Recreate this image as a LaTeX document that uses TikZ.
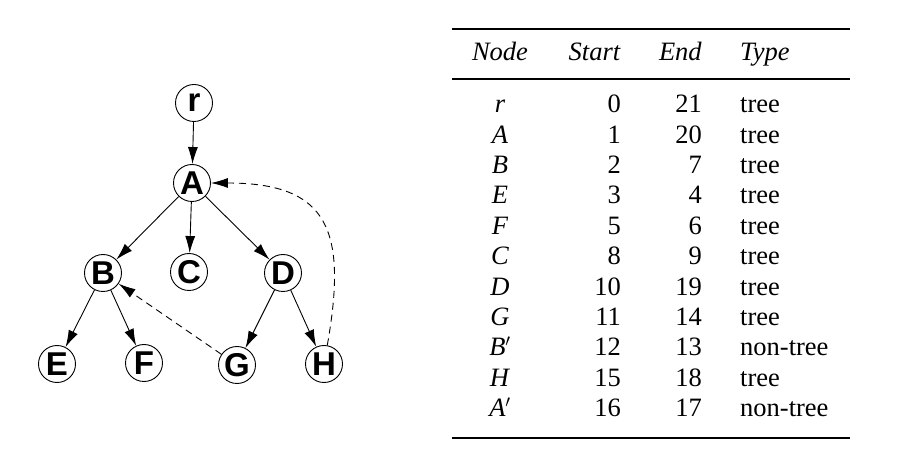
\documentclass[tikz,border=0pt]{standalone}
\usepackage{fontspec}
\setmainfont{Liberation Serif}
\newfontfamily\graphfont{Liberation Sans}
\usetikzlibrary{arrows.meta}
\tikzset{
	vertex/.style={circle, draw, line width=0.9pt, minimum size=37pt, inner sep=0pt,
		font=\graphfont\bfseries\fontsize{33}{33}\selectfont},
	treeedge/.style={-{Latex[length=17pt,width=10pt]}, line width=0.9pt},
	backedge/.style={treeedge, dash pattern=on 7pt off 5pt},
	cell/.style={inner sep=0pt, font=\rmfamily\fontsize{26.5}{30}\selectfont},
	rule/.style={line width=1.2pt}
}
\begin{document}
\begin{tikzpicture}[x=1pt,y=-1pt]
	\useasboundingbox (0,0) rectangle (911,454);
	
	% vertices
	\node[vertex] (r) at (194,103) {r};
	\node[vertex] (A) at (192,183) {A};
	\node[vertex] (B) at (103,273) {B};
	\node[vertex] (C) at (189,272) {C};
	\node[vertex] (D) at (283,273) {D};
	\node[vertex] (E) at (57,364) {E};
	\node[vertex] (F) at (144,363) {F};
	\node[vertex] (G) at (237,365) {G};
	\node[vertex] (H) at (324,364) {H};
	
	% tree edges
	\draw[treeedge] (r) -- (A);
	\foreach \u/\v in {A/B, A/C, A/D, B/E, B/F, D/G, D/H} {
		\draw[treeedge] (\u) -- (\v);
	}
	
	% non-tree edges
	\draw[backedge] (G) -- (B);
	\draw[backedge] (H) to[out=80, in=0, looseness=1.5] (A);
	
	% rules
	\draw[rule] (452,29) -- (850,29);
	\draw[rule] (452,79) -- (850,79);
	\draw[rule] (452,438) -- (850,438);
	
	% header
	\node[cell, anchor=base] (hnode) at (500,61) {\textit{Node}};
	\node[cell, anchor=base east] (hstart) at (621,61) {\textit{Start}};
	\node[cell, anchor=base east] (hend) at (702,61) {\textit{End}};
	\node[cell, anchor=base west] (htype) at (740,61) {\textit{Type}};
	
	% rows
	\foreach \n/\s/\e/\t [count=\i from 0] in {r/0/21/tree, A/1/20/tree, B/2/7/tree,
		E/3/4/tree, F/5/6/tree, C/8/9/tree, D/10/19/tree, G/11/14/tree,
		{B}$'$/12/13/non-tree, H/15/18/tree, {A}$'$/16/17/non-tree} {
		\node[cell, anchor=base] (name\i) at (500, 112.7+30.4*\i) {\textit{\n}};
		\node[cell, anchor=base east] (start\i) at (621, 112.7+30.4*\i) {\s};
		\node[cell, anchor=base east] (end\i) at (702, 112.7+30.4*\i) {\e};
		\node[cell, anchor=base west] (type\i) at (740, 112.7+30.4*\i) {\t};
	}
\end{tikzpicture}
\end{document}
